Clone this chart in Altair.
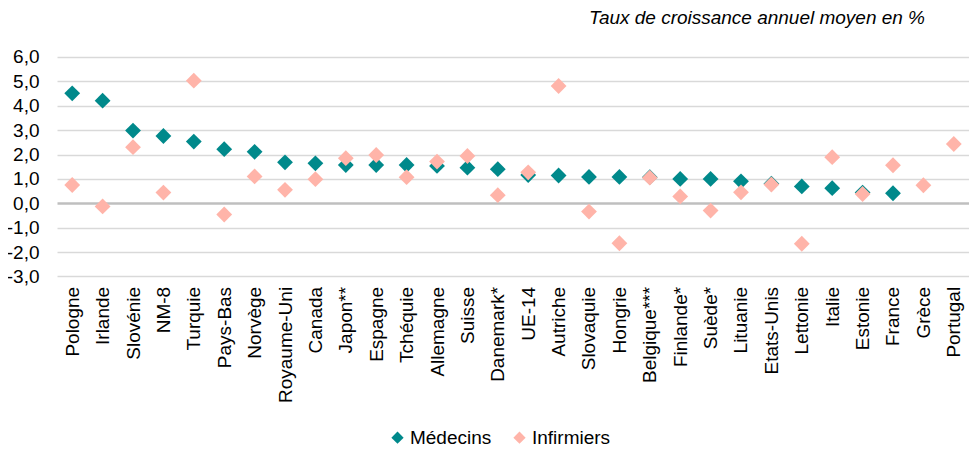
import altair as alt
import pandas as pd

categories = ["Pologne", "Irlande", "Slovénie", "NM-8", "Turquie", "Pays-Bas", "Norvège",
              "Royaume-Uni", "Canada", "Japon**", "Espagne", "Tchéquie", "Allemagne", "Suisse",
              "Danemark*", "UE-14", "Autriche", "Slovaquie", "Hongrie", "Belgique***", "Finlande*",
              "Suède*", "Lituanie", "Etats-Unis", "Lettonie", "Italie", "Estonie", "France",
              "Grèce", "Portugal"]

medecins = [4.51, 4.21, 2.98, 2.76, 2.53, 2.22, 2.11, 1.68, 1.64, 1.57, 1.57, 1.57, 1.53, 1.46,
            1.40, 1.16, 1.14, 1.08, 1.08, 1.07, 1.00, 1.00, 0.90, 0.80, 0.69, 0.62, 0.44, 0.41,
            None, None]

infirmiers = [0.75, -0.13, 2.30, 0.44, 5.03, -0.46, 1.10, 0.55, 0.99, 1.85, 1.98, 1.07, 1.71, 1.94,
              0.33, 1.27, 4.81, -0.34, -1.64, 1.05, 0.28, -0.30, 0.45, 0.77, -1.66, 1.89, 0.38, 1.56,
              0.74, 2.43]

series = ["Médecins", "Infirmiers"]
colors = ["#00898b", "#ffb4a9"]

rows = []
for name, vals in zip(series, [medecins, infirmiers]):
    for c, v in zip(categories, vals):
        if v is not None:
            rows.append({"pays": c, "serie": name, "valeur": v})
df = pd.DataFrame(rows)

font = "Liberation Sans"

chart = alt.Chart(df).mark_point(
    shape="diamond", filled=True, size=250, opacity=1, strokeWidth=0
).encode(
    x=alt.X("pays:N", sort=categories, title=None,
            scale=alt.Scale(paddingInner=0, paddingOuter=0),
            axis=alt.Axis(labelAngle=-90, labelAlign="right", labelBaseline="middle",
                          labelPadding=10, domain=False, ticks=False, grid=False,
                          labelFontSize=19, labelFont=font, labelColor="#000000",
                          labelOverlap=False)),
    y=alt.Y("valeur:Q", title=None,
            scale=alt.Scale(domain=[-3, 6], nice=False, zero=False),
            axis=alt.Axis(values=[-3, -2, -1, 0, 1, 2, 3, 4, 5, 6],
                          labelExpr="replace(replace(format(datum.value, '.1f'), '.', ','), '\u2212', '-')",
                          domain=False, ticks=False, labelPadding=18,
                          labelFontSize=19, labelFont=font, labelColor="#000000",
                          gridColor={"condition": {"test": "datum.value === 0", "value": "#bfbfbf"}, "value": "#d9d9d9"},
                          gridWidth={"condition": {"test": "datum.value === 0", "value": 2.5}, "value": 1.5})),
    color=alt.Color("serie:N", sort=series,
                    scale=alt.Scale(domain=series, range=colors),
                    legend=alt.Legend(title=None, orient="none", direction="horizontal",
                                      legendX=331, legendY=371, symbolType="diamond",
                                      symbolSize=150, labelFontSize=19, labelFont=font,
                                      labelColor="#000000", labelOffset=3, columnPadding=18,
                                      padding=0, symbolStrokeWidth=0)),
    order=alt.Order("serie_order:Q")
).transform_calculate(
    serie_order="datum.serie === 'Médecins' ? 0 : 1"
).properties(
    width=912,
    height=219.4,
    title=alt.TitleParams("Taux de croissance annuel moyen en %", anchor="end", frame="group",
                          fontStyle="italic", fontWeight="normal", fontSize=19, font=font,
                          color="#000000", dx=-44, offset=20),
    autosize=alt.AutoSizeParams(type="none"),
    padding={"left": 49, "top": 49, "right": 0, "bottom": 172}
).configure_view(stroke=None)

chart.save("out.html", embed_options={"renderer": "svg", "actions": False})
